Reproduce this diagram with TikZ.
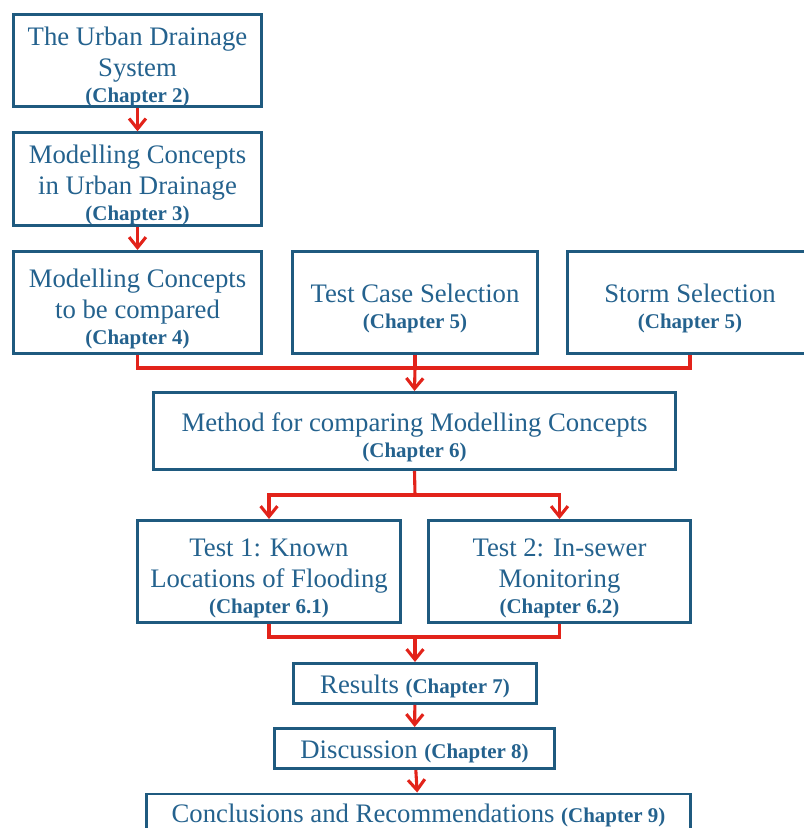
\documentclass[tikz,border=0pt]{standalone}
\usepackage{fontspec}
\setmainfont{Liberation Serif}
\usepackage{xcolor}
\usetikzlibrary{arrows.meta}
\definecolor{framedark}{HTML}{1F5A7F}
\definecolor{textblue}{HTML}{24628E}
\definecolor{flowred}{HTML}{E2231A}
\newcommand{\chap}[1]{{\fontsize{14.9}{17}\selectfont\bfseries (Chapter~#1)}}
\newcommand{\drop}{\rule{0pt}{22pt}}
\begin{document}
\begin{tikzpicture}[
  x=0.025cm,y=-0.025cm,
  box/.style={rectangle,draw=framedark,line width=2.1pt,fill=white,align=center,text=textblue,
    font=\fontsize{19}{22}\selectfont,inner sep=0pt,minimum width=6.2cm,minimum height=2.55cm},
  oneline/.style={box,minimum height=1cm,execute at begin node={\rule{0pt}{#1}}},
  oneline/.default=18pt,
  link/.style={draw=flowred,line width=2.2pt},
  arr/.style={link,-{Straight Barb[length=2.6mm,width=4.2mm]}}
]
\useasboundingbox (0,0) rectangle (803,828);
\node[box,minimum height=2.3cm] (drainage) at (137.5,60.5) {\drop The Urban Drainage\\System\\[-3.5pt]\chap{2}};
\node[box,minimum height=2.275cm] (concepts) at (137.5,179) {\drop Modelling Concepts\\in Urban Drainage\\[-3.5pt]\chap{3}};
\node[box] (compared) at (137.5,302.5) {\drop Modelling Concepts\\to be compared\\[-3.5pt]\chap{4}};
\node[box,minimum width=6.125cm] (testcase) at (415,302.5) {\drop Test Case Selection\\[-3.5pt]\chap{5}};
\node[box,minimum width=6.125cm] (storm) at (690,302.5) {\drop Storm Selection\\[-3.5pt]\chap{5}};
\node[box,minimum width=13.05cm,minimum height=1.925cm] (method) at (414.5,431) {\drop Method for comparing Modelling Concepts\\[-3.5pt]\chap{6}};
\node[box,minimum width=6.575cm] (known) at (269,571.5) {\drop Test 1: Known\\Locations of Flooding\\[-3.5pt]\chap{6.1}};
\node[box,minimum width=6.55cm] (monitor) at (559.5,571.5) {\drop Test 2: In-sewer\\Monitoring\\[-3.5pt]\chap{6.2}};
\node[oneline,minimum width=6.075cm] (results) at (415,683.5) {Results \chap{7}};
\node[oneline,minimum width=7cm] (discussion) at (414.5,748.5) {Discussion \chap{8}};
\node[oneline=15pt,minimum width=13.6cm] (conclusions) at (418.5,814) {Conclusions and Recommendations \chap{9}};
% connectors
\coordinate (merge) at (415,368);
\coordinate (split) at (415,495);
\coordinate (join) at (415,637);
\draw[arr] (drainage) -- (concepts);
\draw[arr] (concepts) -- (compared);
\draw[link] (compared.south) |- (merge) -| (storm.south);
\draw[link] (testcase.south) -- (merge);
\draw[arr] (merge) -- (method.north);
\draw[link] (method.south) -- (split);
\draw[arr] (split) -| (known.north);
\draw[arr] (split) -| (monitor.north);
\draw[link] (known.south) |- (join) -| (monitor.south);
\draw[arr] (join) -- (results.north);
\draw[arr] (results) -- (discussion);
\draw[arr] (discussion) -- (conclusions);
\end{tikzpicture}
\end{document}
